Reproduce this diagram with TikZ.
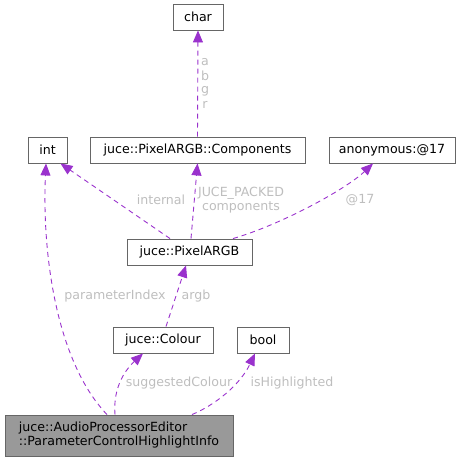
\documentclass[tikz,border=0pt]{standalone}
\usepackage{fontspec}
\setmainfont{DejaVu Sans}
\usetikzlibrary{arrows.meta,positioning}
\definecolor{cEdge}{HTML}{9A32CD}
\definecolor{cBox}{HTML}{666666}
\definecolor{cMain}{HTML}{999999}
\definecolor{cLbl}{HTML}{BEBEBE}

\begin{document}
\begin{tikzpicture}[x=1pt,y=-1pt,
   t/.style={draw=cBox,line width=0.9pt,fill=white,inner sep=0pt,minimum height=26pt,font=\fontsize{12.6}{14}\selectfont},
   m/.style={draw=cBox,line width=0.9pt,fill=cMain,inner sep=0pt,minimum width=228pt,minimum height=41pt,align=left,font=\fontsize{12.6}{14}\selectfont},
   l/.style={text=cLbl,inner sep=0pt,font=\fontsize{12.6}{14}\selectfont},
   a/.style={-{Triangle[length=12pt,width=10pt]},cEdge,line width=0.9pt,dash pattern=on 5pt off 4pt}]
  \useasboundingbox (0,0) rectangle (466,461);
  % boxes
  \node[t,minimum width=50pt]  (chr)  at (198,17)    {char};
  \node[t,minimum width=39pt]  (int)  at (47.5,150)  {int};
  \node[t,minimum width=215pt] (comp) at (197.5,150) {juce::PixelARGB::Components};
  \node[t,minimum width=126pt] (anon) at (392,150)   {anonymous:@17};
  \node[t,minimum width=125pt] (pix)  at (189.5,252) {juce::PixelARGB};
  \node[t,minimum width=100pt] (col)  at (163,340)   {juce::Colour};
  \node[t,minimum width=52pt]  (bool) at (263,340)   {bool};
  \node[m] (info) at (119,435.5) {juce::AudioProcessorEditor\\::ParameterControlHighlightInfo};
  % connectors
  \draw[a] (comp.north) -- (chr.south);
  \draw[a] ([xshift=-19.5pt]pix.north) -- ([xshift=13pt]int.south);
  \draw[a] ([xshift=1.5pt]pix.north) -- (comp.south);
  \draw[a] ([xshift=43.5pt]pix.north) .. controls (280,225) and (345,190) .. ([xshift=-19pt]anon.south);
  \draw[a] ([xshift=-12pt]info.north) .. controls (55,360) and (42,250) .. ([xshift=-1.5pt]int.south);
  \draw[a] ([xshift=3pt]col.north) -- ([xshift=-3.5pt]pix.south);
  \draw[a] ([xshift=-4pt]info.north) .. controls (113,390) and (123,372) .. ([xshift=-20pt]col.south);
  \draw[a] ([xshift=73pt]info.north) .. controls (215,405) and (240,385) .. ([xshift=-8pt]bool.south);
  % labels
  \node[l] (la) at (205,62)  {a};
  \node[l] (lb) at (205,76)  {b};
  \node[l] (lg) at (205,91)  {g};
  \node[l] (lr) at (205,105) {r};
  \node[l] (lint)  at (161,200) {internal};
  \node[l,align=center] (lpack) at (241,200) {JUCE\_PACKED\\components};
  \node[l] (l17)   at (360,200) {@17};
  \node[l] (lpar)  at (115,296) {parameterIndex};
  \node[l] (largb) at (196,296) {argb};
  \node[l] (lsug)  at (179,383) {suggestedColour};
  \node[l] (lhi)   at (292,383) {isHighlighted};
\end{tikzpicture}
\end{document}
